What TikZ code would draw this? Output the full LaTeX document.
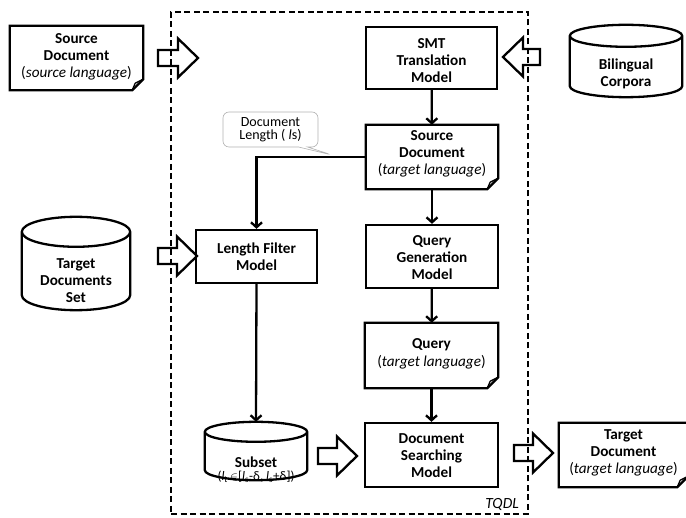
\documentclass[tikz,border=0pt]{standalone}
\usepackage{fontspec}
\setmainfont{Carlito}
\usetikzlibrary{calc,arrows.meta,shapes.callouts}

% document sheet with a folded lower right corner, drawn round a named node
\newcommand\docshape[1]{%
  \draw[outline] (#1.north west) -- (#1.north east) -- ([yshift=11pt]#1.south east)
    -- ([xshift=-11pt]#1.south east) -- (#1.south west) -- cycle;
  \draw[line width=1.3pt, line join=round] ([xshift=-11pt]#1.south east)
    -- ([xshift=-8pt,yshift=7pt]#1.south east) -- ([yshift=11pt]#1.south east);
}
% database cylinder drawn round a named node; #2 = vertical radius of the end ellipses
\newcommand\dbcyl[2]{%
  \draw[outline] let \p1=(#1.north west), \p2=(#1.south east), \n1={(\x2-\x1)/2} in
    (\x1,\y1-#2pt) -- (\x1,\y2+#2pt)
    arc[start angle=180,end angle=360,x radius=\n1,y radius=#2pt]
    -- (\x2,\y1-#2pt)
    (\x1/2+\x2/2,\y1-#2pt) ellipse[x radius=\n1,y radius=#2pt];
}
% hollow block arrow from #1 (tail) to #2 (tip)
\newcommand\fatarrow[2]{%
  \draw[fat] ($(#1)+(0,-8)$) -- ($(#2)!20pt!(#1)+(0,-8)$) -- ($(#2)!20pt!(#1)+(0,-19.5)$)
    -- (#2) -- ($(#2)!20pt!(#1)+(0,19.5)$) -- ($(#2)!20pt!(#1)+(0,8)$) -- ($(#1)+(0,8)$) -- cycle;
}

\begin{document}
\begin{tikzpicture}[x=1pt,y=-1pt,
  outline/.style={line width=2.3pt, line join=miter},
  bigfont/.style={font=\bfseries\fontsize{15.2}{17}\selectfont},
  box/.style={draw, line width=2.3pt, inner sep=0pt},
  shapebox/.style={inner sep=0pt},
  txt/.style={align=center, inner sep=0pt, bigfont},
  flow/.style={line width=2.3pt, -{Straight Barb[length=5pt,width=11pt]}},
  fat/.style={line width=2.3pt, line join=miter},
  frame/.style={draw, line width=2pt, dash pattern=on 6pt off 3.5pt, inner sep=0pt}
]
\useasboundingbox (0,0) rectangle (686,518);

% TQDL system boundary
\node[frame, minimum width=357pt, minimum height=502pt] (tqdlbox) at (349.5,263) {};
\node[anchor=base east, inner sep=0pt, font=\itshape\fontsize{15.5}{17}\selectfont] (tqdl) at (519,509) {TQDL};

% models
\node[box, minimum width=131pt, minimum height=62pt] (smt) at (431.5,58) {};
\node[box, minimum width=121pt, minimum height=53pt] (lf) at (256.5,256.5) {};
\node[box, minimum width=132pt, minimum height=63pt] (qgen) at (432,256.5) {};
\node[box, minimum width=133pt, minimum height=64pt] (dsm) at (431.5,455) {};
\node[txt] (smttxt) at ([yshift=-2.5pt]smt.center) {SMT\\Translation\\Model};
\node[txt] (lftxt) at ([yshift=-0.5pt]lf.center) {Length Filter\\Model};
\node[txt] (qgentxt) at ([yshift=-1pt]qgen.center) {Query\\Generation\\Model};
\node[txt] (dsmtxt) at ([yshift=-0.5pt]dsm.center) {Document\\Searching\\Model};

% documents
\node[shapebox, minimum width=133pt, minimum height=64pt] (srcdoc) at (76.5,58) {};
\node[shapebox, minimum width=132pt, minimum height=64pt] (srct) at (432,157) {};
\node[shapebox, minimum width=133pt, minimum height=65pt] (query) at (431.5,355.5) {};
\node[shapebox, minimum width=129pt, minimum height=64pt] (tgt) at (623.5,455) {};
\docshape{srcdoc}
\docshape{srct}
\docshape{query}
\docshape{tgt}
\node[txt] (srcdoctxt) at ([yshift=1pt]srcdoc.center) {Source\\Document\\{\mdseries(\textit{source language})}};
\node[txt] (srcttxt) at ([yshift=3pt]srct.center) {Source\\Document\\{\mdseries(\textit{target language})}};
\node[txt] (querytxt) at ([yshift=2pt]query.center) {Query\\[1pt]{\mdseries(\textit{target language})}};
\node[txt] (tgttxt) at ([yshift=2pt]tgt.center) {Target\\Document\\{\mdseries(\textit{target language})}};

% data stores
\node[shapebox, minimum width=112pt, minimum height=72pt] (bil) at (626,61) {};
\node[shapebox, minimum width=108pt, minimum height=93pt] (tds) at (76,263.5) {};
\node[shapebox, minimum width=102pt, minimum height=58pt] (subset) at (256,451) {};
\dbcyl{bil}{11}
\dbcyl{tds}{15}
\dbcyl{subset}{10}
\node[txt] (biltxt) at (626,74) {Bilingual\\Corpora};
\node[txt] (tdstxt) at (76,280.5) {Target\\Documents\\Set};
\node[txt] (subsettxt) at (256,462) {Subset};
\node[inner sep=0pt, font=\fontsize{13}{14}\selectfont] (subsetrange) at (256,477)
  {(\textit{l}\textsubscript{t}\,$\in$[\textit{l}\textsubscript{s}-δ, \textit{l}\textsubscript{s}+δ])};

% document length annotation
\node[rectangle callout, draw=gray!60, line width=0.6pt, rounded corners=6pt, fill=white,
  minimum width=95pt, minimum height=35pt, inner sep=0pt, align=center,
  callout absolute pointer={(332,155)}, callout pointer width=9pt,
  font=\fontsize{14}{13.5}\selectfont] (doclen) at (270.5,129.5) {Document\\Length ( \textit{l}s)};

% processing flow
\draw[flow] (smt) -- (srct);
\draw[flow] (srct) -- (qgen);
\draw[flow] (qgen) -- (query);
\draw[flow] (query) -- (dsm);
\draw[flow] (srct.west) -| (lf.north);
\draw[flow] (lf.south) -- (subset.north);

% inputs and outputs
\coordinate (in1a) at (158,58);   \coordinate (in1b) at (198,58);
\coordinate (in2a) at (540,57);   \coordinate (in2b) at (503,57);
\coordinate (in3a) at (158,256);  \coordinate (in3b) at (197,256);
\coordinate (in4a) at (318,456);  \coordinate (in4b) at (357,456);
\coordinate (out1a) at (514,453); \coordinate (out1b) at (553,453);
\fatarrow{in1a}{in1b}
\fatarrow{in2a}{in2b}
\fatarrow{in3a}{in3b}
\fatarrow{in4a}{in4b}
\fatarrow{out1a}{out1b}
\end{tikzpicture}
\end{document}
